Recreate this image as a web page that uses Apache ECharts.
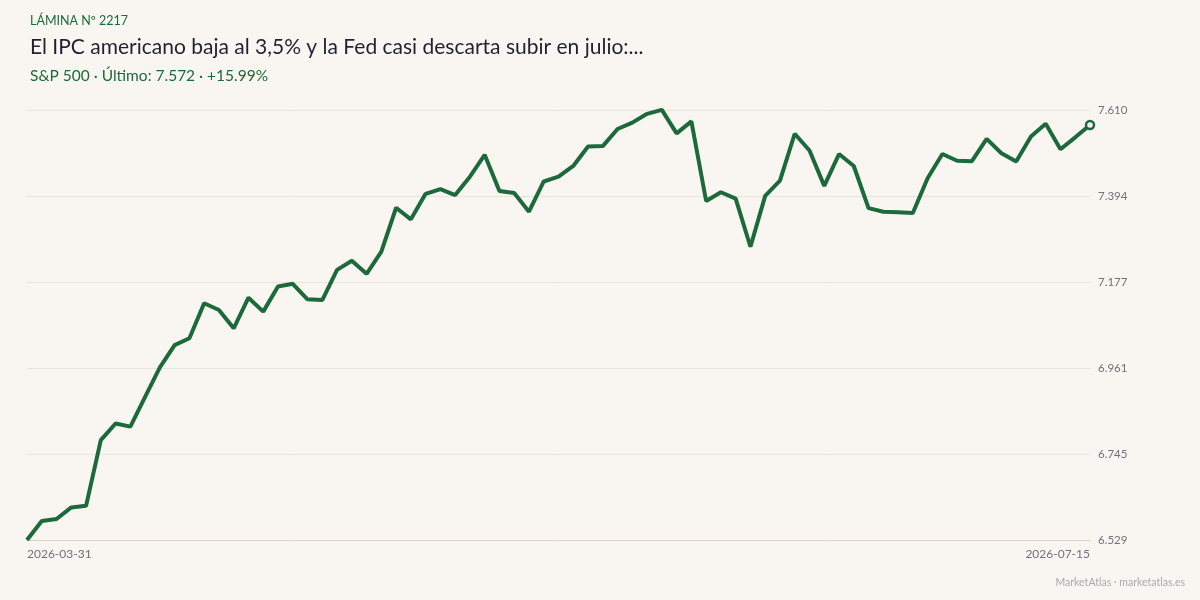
<!DOCTYPE html>
<html>
<head>
<meta charset="utf-8">
<script src="https://cdn.jsdelivr.net/npm/echarts@6/dist/echarts.min.js"></script>
<style>
  html, body { margin: 0; padding: 0; background: #f9f6f1; }
  #chart { width: 1200px; height: 600px; }
</style>
</head>
<body>
<div id="chart"></div>
<script>
// sesiones hábiles 31-mar a 15-jul 2026
const dates = [
  '2026-03-31',
  '2026-04-01', '2026-04-02', '2026-04-06', '2026-04-07', '2026-04-08', '2026-04-09', '2026-04-10',
  '2026-04-13', '2026-04-14', '2026-04-15', '2026-04-16', '2026-04-17', '2026-04-20', '2026-04-21',
  '2026-04-22', '2026-04-23', '2026-04-24', '2026-04-27', '2026-04-28', '2026-04-29', '2026-04-30',
  '2026-05-01', '2026-05-04', '2026-05-05', '2026-05-06', '2026-05-07', '2026-05-08', '2026-05-11',
  '2026-05-12', '2026-05-13', '2026-05-14', '2026-05-15', '2026-05-18', '2026-05-19', '2026-05-20',
  '2026-05-21', '2026-05-22', '2026-05-26', '2026-05-27', '2026-05-28', '2026-05-29',
  '2026-06-01', '2026-06-02', '2026-06-03', '2026-06-04', '2026-06-05', '2026-06-08', '2026-06-09',
  '2026-06-10', '2026-06-11', '2026-06-12', '2026-06-15', '2026-06-16', '2026-06-17', '2026-06-18',
  '2026-06-22', '2026-06-23', '2026-06-24', '2026-06-25', '2026-06-26', '2026-06-29', '2026-06-30',
  '2026-07-01', '2026-07-02', '2026-07-06', '2026-07-07', '2026-07-08', '2026-07-09', '2026-07-10',
  '2026-07-13', '2026-07-14', '2026-07-15'
]

const closes = [
  6529, 6577, 6582, 6611, 6615, 6780, 6822, 6814, 6889, 6963,
  7019, 7036, 7124, 7107, 7061, 7138, 7103, 7166, 7173, 7134,
  7132, 7208, 7231, 7198, 7254, 7364, 7335, 7399, 7411, 7396,
  7442, 7497, 7406, 7401, 7354, 7430, 7442, 7469, 7518, 7519,
  7562, 7578, 7600, 7610, 7551, 7581, 7381, 7403, 7387, 7266,
  7394, 7432, 7550, 7508, 7419, 7499, 7469, 7363, 7354, 7353,
  7351, 7438, 7499, 7482, 7481, 7537, 7501, 7480, 7543, 7575,
  7511, 7541, 7572
]

// escala: 6.529 … 7.610 en 5 tramos
const yMin = 6529.15
const yMax = 7609.65
const yStep = 216.1

const GREEN = '#1c6a3b'
const BG = '#f9f6f1'
const FONT = 'Lato, "Noto Sans", sans-serif'

function fmtMiles(v) {
  const s = String(Math.round(v))
  return s.length > 3 ? s.slice(0, s.length - 3) + '.' + s.slice(-3) : s
}

const last = closes[closes.length - 1]

const chart = echarts.init(document.getElementById('chart'))
chart.setOption({
  backgroundColor: BG,
  animation: false,
  title: [
    { text: 'LÁMINA Nº 2217', left: 30, top: 14, padding: 0,
      textStyle: { color: GREEN, fontSize: 12.5, fontWeight: 'normal', fontFamily: FONT } },
    { text: 'El IPC americano baja al 3,5% y la Fed casi descarta subir en julio:...', left: 30, top: 37, padding: 0,
      textStyle: { color: '#1f2230', fontSize: 21, fontWeight: 'normal', fontFamily: FONT } },
    { text: 'S&P 500 · Último: ' + fmtMiles(last) + ' · +15.99%', left: 30, top: 68, padding: 0,
      textStyle: { color: GREEN, fontSize: 15.5, fontWeight: 'normal', fontFamily: FONT } },
    { text: 'MarketAtlas · marketatlas.es', right: 15, top: 577, padding: 0,
      textStyle: { color: '#a9a9ad', fontSize: 10.5, fontWeight: 'normal', fontFamily: FONT } }
  ],
  grid: { left: 27, right: 110, top: 110, bottom: 60 },
  xAxis: {
    type: 'category',
    data: dates,
    boundaryGap: false,
    axisLine: { show: true, lineStyle: { color: '#d9d3c9' } },
    axisTick: { show: false },
    splitLine: { show: false },
    axisLabel: {
      color: '#6f717b', fontSize: 12, fontFamily: FONT, margin: 8,
      interval: (i) => i === 0 || i === dates.length - 1,
      alignMinLabel: 'left', alignMaxLabel: 'right',
      showMinLabel: true, showMaxLabel: true
    }
  },
  yAxis: {
    type: 'value',
    position: 'right',
    min: yMin,
    max: yMax,
    interval: yStep,
    axisLine: { show: false },
    axisTick: { show: false },
    splitLine: { lineStyle: { color: '#e8e3db', width: 1 } },
    axisLabel: {
      color: '#6f717b', fontSize: 11.5, fontFamily: FONT, margin: 8,
      formatter: (v) => fmtMiles(v)
    }
  },
  series: [
    {
      type: 'line',
      data: closes,
      showSymbol: false,
      lineStyle: { color: GREEN, width: 4 },
      itemStyle: { color: GREEN }
    },
    {
      type: 'scatter',
      data: [[dates[dates.length - 1], last]],
      symbol: 'circle',
      symbolSize: 8,
      itemStyle: { color: BG, borderColor: GREEN, borderWidth: 2.5, opacity: 1 },
      z: 5
    }
  ]
})
</script>
</body>
</html>
